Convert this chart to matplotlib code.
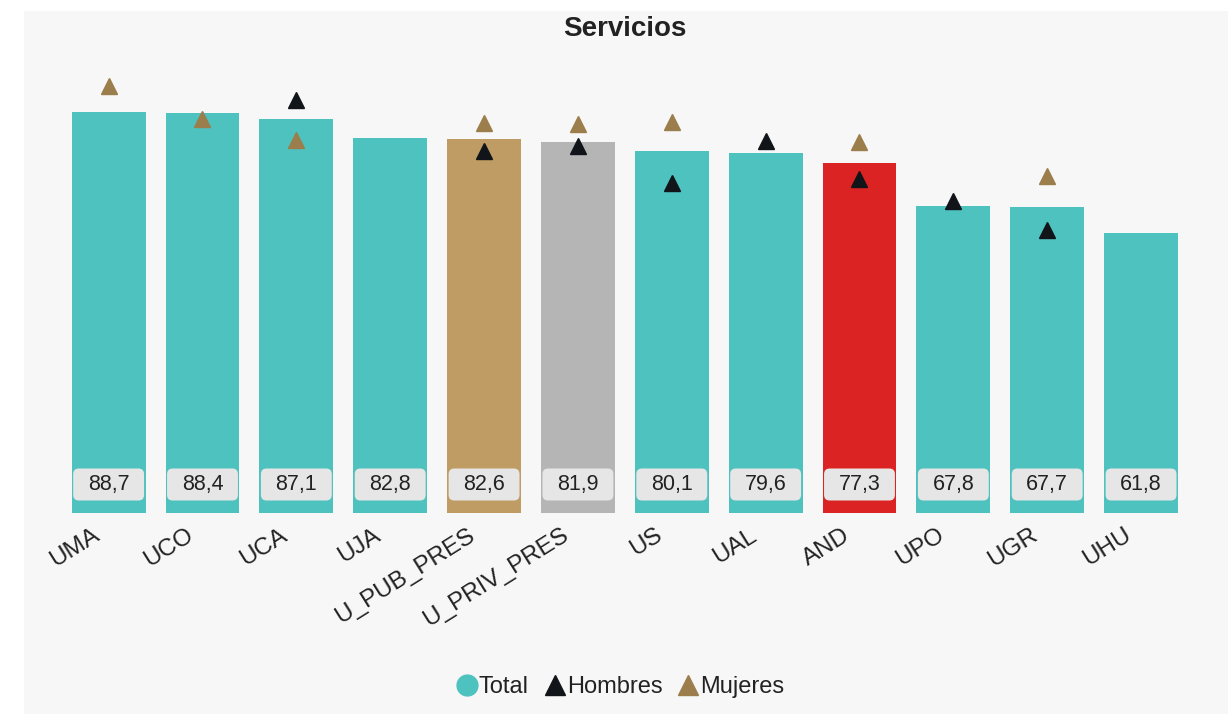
import numpy as np
import matplotlib.pyplot as plt
from matplotlib.patches import Rectangle, FancyBboxPatch
from matplotlib.lines import Line2D
from matplotlib.transforms import blended_transform_factory, ScaledTranslation

plt.rcParams['font.family'] = ['Liberation Sans', 'DejaVu Sans']

# datos
universidades = ["UMA", "UCO", "UCA", "UJA", "U_PUB_PRES", "U_PRIV_PRES",
                 "US", "UAL", "AND", "UPO", "UGR", "UHU"]
total = [88.7, 88.4, 87.1, 82.8, 82.6, 81.9, 80.1, 79.6, 77.3, 67.8, 67.7, 61.8]
hombres = [np.nan, np.nan, 91.2, np.nan, 79.9, 81.0, 73.0, 82.2, 73.9, 69.0, 62.5, np.nan]
mujeres = [94.4, 87.1, 82.4, np.nan, 86.2, 85.9, 86.4, np.nan, 81.9, np.nan, 74.5, np.nan]

teal = "#4EC2BE"
colores_especiales = {"U_PUB_PRES": "#BE9C63", "U_PRIV_PRES": "#B5B5B5", "AND": "#DC2323"}
col_h = "#111418"
col_m = "#9B7E4B"

W, H = 1228, 714
fig = plt.figure(figsize=(W / 100, H / 100), dpi=100)
fig.patch.set_facecolor("white")
fig.patches.append(Rectangle((24 / W, 0), 1 - 24 / W, (H - 11) / H,
                             transform=fig.transFigure, facecolor="#F7F7F7",
                             edgecolor="none", zorder=-10))

ax = fig.add_axes([61.7 / W, (H - 513) / H, (1188 - 61.7) / W, 452.5 / H])
ax.set_facecolor("none")

x = np.arange(len(universidades))
colores = [colores_especiales.get(u, teal) for u in universidades]
ax.bar(x, total, width=0.787, color=colores, zorder=2)

ax.plot(x, hombres, linestyle="none", marker="^", markersize=12, color=col_h, zorder=4)
ax.plot(x, mujeres, linestyle="none", marker="^", markersize=12, color=col_m, zorder=4)

# etiquetas de valor en cajas redondeadas
trans = blended_transform_factory(ax.transData, ax.transAxes)
bw, bh, b0 = 71 / 94, 32 / 452.5, 12.5 / 452.5
for i, v in enumerate(total):
    ax.add_patch(FancyBboxPatch((i - bw / 2, b0), bw, bh, transform=trans,
                                boxstyle="round,pad=0,rounding_size=0.06",
                                mutation_aspect=94 / 452.5,
                                facecolor="#E6E6E6", edgecolor="none", zorder=5))
    ax.text(i, b0 + bh / 2, f"{v:.1f}".replace(".", ","), transform=trans,
            ha="center", va="center", fontsize=15.5, color="#222222", zorder=6)

ax.set_xlim(-0.5, len(universidades) - 0.5)
ax.set_ylim(0, 100)
ax.set_yticks([])
ax.set_xticks(x)
ax.set_xticklabels(universidades, rotation=32, ha="right", rotation_mode="anchor",
                   fontsize=17.5, color="#222222")
ax.tick_params(axis="x", length=0, pad=8)
shift = ScaledTranslation(-17 / 100, 0, fig.dpi_scale_trans)
for lbl in ax.get_xticklabels():
    lbl.set_transform(lbl.get_transform() + shift)
for s in ax.spines.values():
    s.set_visible(False)

fig.text(625 / W, 1 - 29 / H, "Servicios", ha="center", va="center",
         fontsize=20, fontweight="bold", color="#222222")

handles = [
    Line2D([], [], linestyle="none", marker="o", markersize=15, color=teal),
    Line2D([], [], linestyle="none", marker="^", markersize=14, color=col_h),
    Line2D([], [], linestyle="none", marker="^", markersize=14, color=col_m),
]
fig.legend(handles, ["Total", "Hombres", "Mujeres"], loc="center",
           bbox_to_anchor=(621 / W, 1 - 687 / H), ncol=3, frameon=False,
           fontsize=17, handlelength=0.8, handletextpad=0.1, columnspacing=0.7,
           labelcolor="#222222")

fig.savefig("out.png", dpi=100)
